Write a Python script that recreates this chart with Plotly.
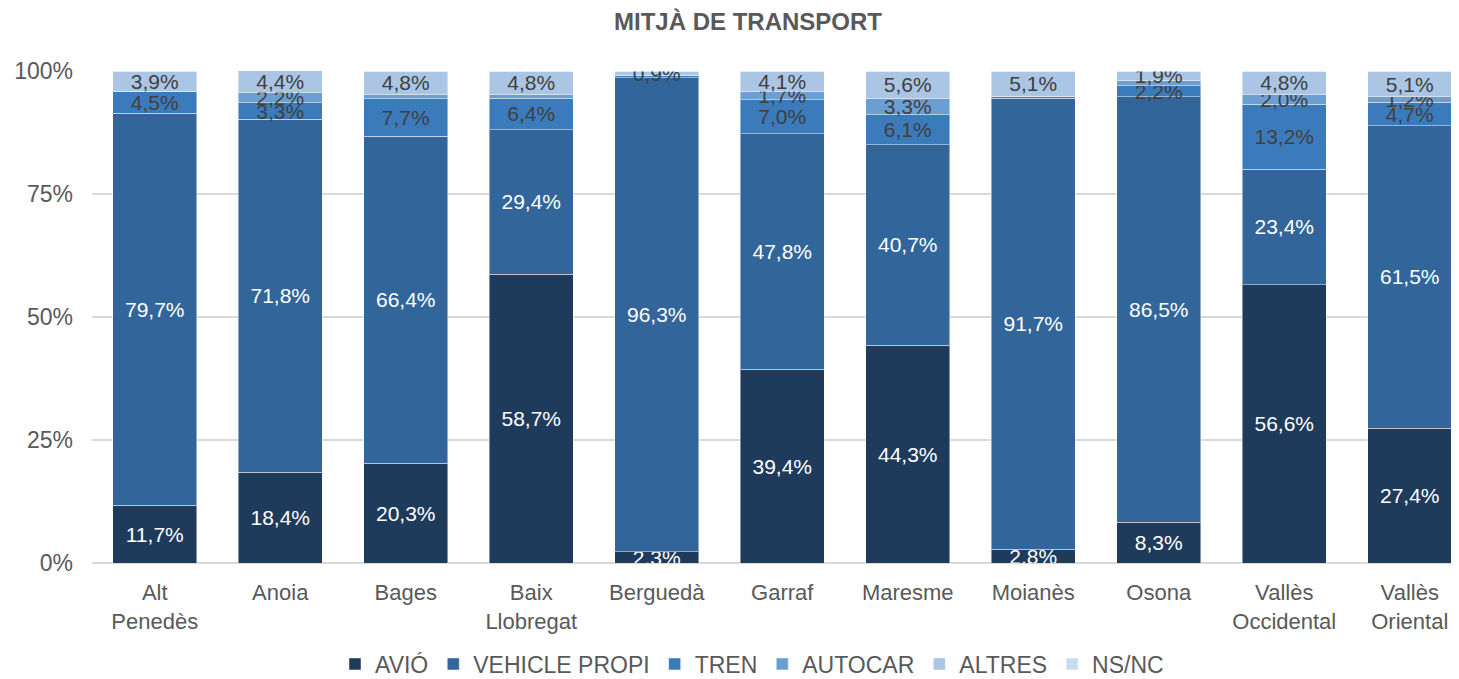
import plotly.graph_objects as go

categories = ["Alt<br>Penedès", "Anoia", "Bages", "Baix<br>Llobregat", "Berguedà", "Garraf",
              "Maresme", "Moianès", "Osona", "Vallès<br>Occidental", "Vallès<br>Oriental"]

series_names = ["AVIÓ", "VEHICLE PROPI", "TREN", "AUTOCAR", "ALTRES", "NS/NC"]

avio = [11.7, 18.4, 20.3, 58.7, 2.3, 39.4, 44.3, 2.8, 8.3, 56.6, 27.4]
vehicle_propi = [79.7, 71.8, 66.4, 29.4, 96.3, 47.8, 40.7, 91.7, 86.5, 23.4, 61.5]
tren = [4.5, 3.3, 7.7, 6.4, 0.5, 7.0, 6.1, 0.4, 2.2, 13.2, 4.7]
autocar = [0.0, 2.2, 0.8, 0.7, 0.0, 1.7, 3.3, 0.0, 1.1, 2.0, 1.2]
altres = [3.9, 4.4, 4.8, 4.8, 0.9, 4.1, 5.6, 5.1, 1.9, 4.8, 5.1]
ns_nc = [0.2, 0.0, 0.0, 0.0, 0.0, 0.0, 0.0, 0.0, 0.0, 0.0, 0.1]

y_tick_vals = [0, 25, 50, 75, 100]
y_tick_text = ["0%", "25%", "50%", "75%", "100%"]

# which segment labels are displayed in the original chart
show_avio = [1] * 11
show_vp = [1] * 11
show_tren = [1, 1, 1, 1, 0, 1, 1, 0, 1, 1, 1]
show_autocar = [0, 1, 0, 0, 0, 1, 1, 0, 0, 1, 1]
show_altres = [1] * 11
show_nsnc = [0] * 11

values = [avio, vehicle_propi, tren, autocar, altres, ns_nc]
shows = [show_avio, show_vp, show_tren, show_autocar, show_altres, show_nsnc]
colors = ["#1f3b5b", "#32669a", "#3b7bbb", "#6b9fd1", "#aac6e4", "#c9dbef"]
text_colors = ["white", "white", "#404040", "#404040", "#404040", "#404040"]

FONT = "Liberation Sans, Arial, sans-serif"

# page body has an 8px margin, so the figure is drawn 8px smaller and shifted
W, H = 1451, 671

fig = go.Figure()
for name, vals, sh, col, tc in zip(series_names, values, shows, colors, text_colors):
    txt = [(f"{v:.1f}".replace(".", ",") + "%") if s else "" for v, s in zip(vals, sh)]
    fig.add_trace(go.Bar(
        name=name, x=categories, y=vals,
        marker=dict(color=col, line=dict(color="rgba(255,255,255,0.45)", width=1)),
        text=txt, textposition="inside", insidetextanchor="middle",
        textfont=dict(color=tc, size=21, family=FONT),
        hoverinfo="skip",
    ))

fig.update_layout(
    barmode="stack",
    bargap=0.33,
    width=W, height=H,
    paper_bgcolor="white", plot_bgcolor="white",
    margin=dict(l=84, r=0, t=63, b=116),
    font=dict(family=FONT, color="#595959", size=21),
    uniformtext=dict(minsize=21, mode="show"),
    title=dict(text="<b>MITJÀ DE TRANSPORT</b>", x=(748 - 8) / W, xanchor="center",
               yref="container", y=1 - 14 / H, yanchor="middle",
               font=dict(size=24, color="#595959", family=FONT)),
    legend=dict(orientation="h", xref="container", yref="container",
                x=(752 - 8) / W, xanchor="center", y=(H - 656) / H, yanchor="middle",
                font=dict(size=23, color="#595959", family=FONT),
                itemwidth=30, traceorder="normal"),
    showlegend=True,
)
fig.update_xaxes(range=[-0.5, -0.5 + 1367 / 125.5], showgrid=False, showline=False,
                 ticks="", tickfont=dict(size=22, color="#595959"), ticklabelstandoff=14)
fig.update_yaxes(range=[0, 100], tickmode="array", tickvals=y_tick_vals, ticktext=y_tick_text,
                 showgrid=True, gridcolor="#d9d9d9", gridwidth=1.5,
                 zeroline=True, zerolinecolor="#d9d9d9", zerolinewidth=1.5,
                 ticks="", tickfont=dict(size=23, color="#595959"), ticklabelstandoff=18)

fig.write_html("out.html")
